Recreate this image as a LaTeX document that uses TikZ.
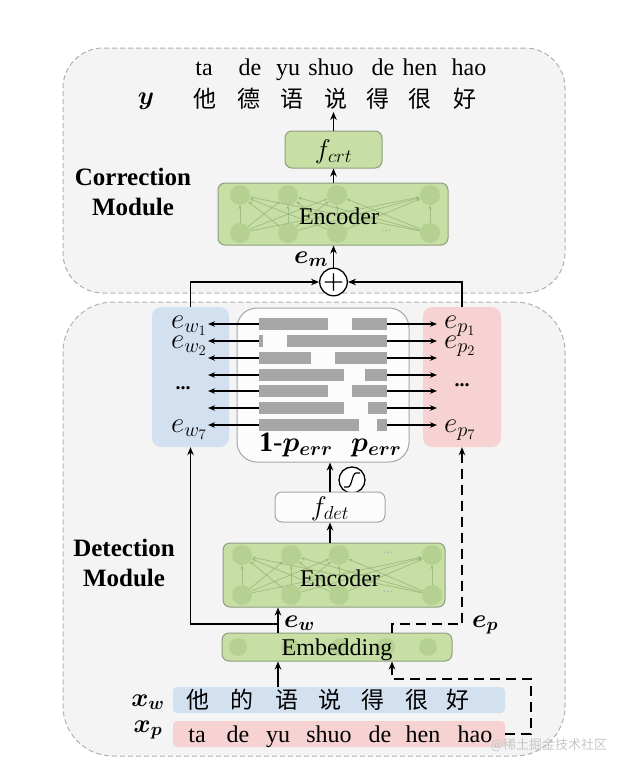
\RequirePackage{fix-cm}
\documentclass[tikz,border=0pt]{standalone}
\usepackage{fontspec}
\usepackage{bm}
\setmainfont{Liberation Serif}
\newfontfamily\cjk{Noto Sans CJK SC}
\usetikzlibrary{arrows.meta}
\definecolor{bgray}{HTML}{F4F4F4}
\definecolor{dashgray}{HTML}{B0B0B0}
\definecolor{gfill}{HTML}{C7DFA5}
\definecolor{gborder}{HTML}{8E9E80}
\definecolor{gcirc}{HTML}{A8C886}
\definecolor{gline}{HTML}{98B67C}
\definecolor{bluef}{HTML}{D3E0F0}
\definecolor{pinkf}{HTML}{F6D2D2}
\definecolor{bargray}{HTML}{A6A6A6}
\tikzset{
  outerbox/.style={draw=dashgray, dash pattern=on 5pt off 3pt, line width=1pt, fill=bgray, inner sep=0},
  greenbox/.style={draw=gborder, fill=gfill, rounded corners=7pt, line width=1pt, inner sep=0},
  whitebox/.style={draw=gray!70, fill=white!70!bgray, rounded corners=7pt, line width=1pt, inner sep=0},
  colbox/.style={rounded corners=9pt, inner sep=0},
  arr/.style={-{Stealth[length=8pt,width=6.5pt]}, line width=1.7pt},
  rowarr/.style={-{Stealth[length=7pt,width=5.5pt]}, line width=1.1pt},
  dasharr/.style={arr, dash pattern=on 10pt off 6pt},
  bar/.style={fill=bargray, inner sep=0, minimum height=12pt},
  txt/.style={font=\fontsize{24}{28}\selectfont, inner sep=0},
  cjktxt/.style={font=\cjk\fontsize{23}{28}\selectfont, inner sep=0},
  mtxt/.style={font=\fontsize{29}{32}\selectfont, inner sep=0},
  ftxt/.style={font=\fontsize{27}{30}\selectfont, inner sep=0},
  bmtxt/.style={font=\fontsize{26}{30}\selectfont, inner sep=0},
  stxt/.style={font=\fontsize{28}{30}\selectfont, inner sep=0},
  btxt/.style={font=\bfseries\fontsize{25}{30}\selectfont, inner sep=0, align=center},
  ecirc/.style={circle, fill=gcirc, fill opacity=0.6, inner sep=0, minimum size=20pt},
  elink/.style={draw=gline, line width=0.8pt, opacity=0.8, -{Stealth[length=4pt,width=3pt]}},
  opcirc/.style={circle, draw, line width=1.3pt, fill=white, inner sep=0},
  dotstxt/.style={font=\bfseries\fontsize{20}{20}\selectfont, inner sep=0},
}
\begin{document}
\begin{tikzpicture}[x=1pt,y=-1pt]
\useasboundingbox (0,0) rectangle (626,774);
% outer module boxes
\node[outerbox, rounded corners=40pt, minimum width=502pt, minimum height=245pt] (corrbox) at (314,170.5) {};
\node[outerbox, rounded corners=50pt, minimum width=502pt, minimum height=454pt] (detbox) at (314,529) {};
\node[btxt] (corrlab) at (133,192) {Correction\\Module};
\node[btxt] (detlab) at (124,563) {Detection\\Module};

% output rows
\foreach \p/\x [count=\i] in {ta/204,de/250,yu/288,shuo/331,de/383,hen/420,hao/469}
  \node[txt, anchor=base] (py\i) at (\x,75) {\p};
\foreach \c/\x [count=\i] in {他/205,德/249,语/292,说/336,得/378,很/420,好/465}
  \node[cjktxt] (yc\i) at (\x,99) {\c};
\node[bmtxt, anchor=base] (ylab) at (146,104) {$\bm{y}$};

% correction module
\node[greenbox, minimum width=97pt, minimum height=37pt] (fcrt) at (333.5,149.5) {};
\node[ftxt] (fcrtt) at (333.5,152) {$f_{crt}$};
\node[greenbox, minimum width=230pt, minimum height=62pt] (enc1) at (333,214) {};
\foreach \x [count=\i] in {240,288,337,430} {
  \node[ecirc] (ta\i) at (\x,195) {};
  \node[ecirc] (ba\i) at (\x,233) {};
}
\foreach \i in {1,2,3,4} \foreach \j in {1,2,3,4}
  \draw[elink] (ba\i) -- (ta\j);
\node[txt, text=gray!60, font=\fontsize{14}{14}\selectfont] (enc1dots) at (386,231) {...};
\node[txt] (enc1t) at (339,216) {Encoder};
\node[opcirc, minimum size=27pt, font=\fontsize{24}{24}\selectfont] (plus) at (333.5,282) {$\bm{+}$};
\node[bmtxt, anchor=base west] (emlab) at (294,263) {$\bm{e_m}$};
\coordinate (ytop) at (333.5,112);
\draw[arr] (fcrt.north) -- (ytop);
\draw[arr] (fcrt.south |- enc1.north) -- (fcrt.south);
\draw[arr] (plus.north) -- (plus.north |- enc1.south);

% detection: three column boxes
\node[colbox, fill=bluef, minimum width=77pt, minimum height=140pt] (ewbox) at (190.5,377) {};
\node[colbox, fill=pinkf, minimum width=78pt, minimum height=140pt] (epbox) at (462,377) {};
\node[whitebox, rounded corners=20pt, minimum width=172pt, minimum height=154pt] (midbox) at (323,385) {};
\draw[arr] (ewbox.north) |- (plus.west);
\draw[arr] (epbox.north) |- (plus.east);

\foreach \y/\a/\b [count=\i] in {324/328/352, 341/263/287, 358/311/335, 375/344/365, 391/328/352, 408/344/368, 425/359/377} {
  \node[bar, minimum width={(\a-259)*1pt}, anchor=west] (lb\i) at (259,\y) {};
  \node[bar, minimum width={(387-\b)*1pt}, anchor=east] (rb\i) at (387,\y) {};
  \coordinate (lt\i) at (208,\y);
  \coordinate (rt\i) at (437,\y);
  \draw[rowarr] (lb\i.west) -- (lt\i);
  \draw[rowarr] (rb\i.east) -- (rt\i);
}
\node[mtxt, anchor=base west] (ew1) at (171,328) {$e_{w_1}$};
\node[mtxt, anchor=base west] (ew2) at (171,348) {$e_{w_2}$};
\node[dotstxt] (ewd) at (183,388) {...};
\node[mtxt, anchor=base west] (ew7) at (171,432) {$e_{w_7}$};
\node[mtxt, anchor=base west] (ep1) at (444,328) {$e_{p_1}$};
\node[mtxt, anchor=base west] (ep2) at (444,348) {$e_{p_2}$};
\node[dotstxt] (epd) at (462,385) {...};
\node[mtxt, anchor=base west] (ep7) at (444,432) {$e_{p_7}$};
\node[stxt, anchor=base west] (perr1) at (259,451) {$\mathbf{1}$-$\bm{p_{err}}$};
\node[stxt, anchor=base west] (perr) at (351,451) {$\bm{p_{err}}$};

% sigmoid and f_det
\node[opcirc, minimum size=26pt] (sig) at (352,480) {};
\draw[line width=1.2pt] (sig.center) ++(-8,7) -- ++(4,0) .. controls ++(4,0) and ++(-4,0) .. ++(8,-14) -- ++(4,0);
\node[whitebox, minimum width=110pt, minimum height=30pt] (fdet) at (330,507) {};
\node[ftxt] (fdett) at (330,509) {$f_{det}$};
\draw[arr] (fdet.north) -- (fdet.north |- midbox.south);

% detection encoder
\node[greenbox, minimum width=222pt, minimum height=64pt] (enc2) at (334,575) {};
\foreach \x [count=\i] in {242,291,339,432} {
  \node[ecirc] (tb\i) at (\x,555) {};
  \node[ecirc] (bb\i) at (\x,595) {};
}
\foreach \i in {1,2,3,4} \foreach \j in {1,2,3,4}
  \draw[elink] (bb\i) -- (tb\j);
\node[txt, text=gray!60, font=\fontsize{14}{14}\selectfont] (enc2dotsa) at (388,553) {...};
\node[txt, text=gray!60, font=\fontsize{14}{14}\selectfont] (enc2dotsb) at (388,592) {...};
\node[txt] (enc2t) at (340,578) {Encoder};
\draw[arr] (fdet.south |- enc2.north) -- (fdet.south);

% embedding
\node[greenbox, minimum width=230pt, minimum height=28pt] (emb) at (337,647) {};
\foreach \x [count=\i] in {238,290,340,386,428}
  \node[ecirc, minimum size=18pt] (ec\i) at (\x,647) {};
\node[txt] (embt) at (337,650) {Embedding};

\coordinate (ewsplit) at (278,624);
\coordinate (epsplit) at (392,624);
\draw[arr] (emb.north -| ewsplit) -- (enc2.south -| ewsplit);
\draw[arr] (ewsplit) -| (ewbox.south);
\draw[dasharr] (emb.north -| epsplit) -- (epsplit) -| (epbox.south);
\node[bmtxt, anchor=base west] (ewlab) at (284,627) {$\bm{e_w}$};
\node[bmtxt, anchor=base west] (eplab) at (472,627) {$\bm{e_p}$};

% input rows
\node[colbox, rounded corners=4pt, fill=bluef, minimum width=332pt, minimum height=26pt] (xwbox) at (339,700) {};
\node[colbox, rounded corners=4pt, fill=pinkf, minimum width=332pt, minimum height=26pt] (xpbox) at (339,734) {};
\foreach \c/\x [count=\i] in {他/198,的/242,语/287,说/330,得/373,很/417,好/458}
  \node[cjktxt] (xc\i) at (\x,700) {\c};
\foreach \p/\x [count=\i] in {ta/197,de/238,yu/278,shuo/329,de/380,hen/423,hao/475}
  \node[txt, anchor=base] (xp\i) at (\x,742) {\p};
\node[bmtxt, anchor=base] (xwlab) at (148,706) {$\bm{x_w}$};
\node[bmtxt, anchor=base] (xplab) at (148,732) {$\bm{x_p}$};
\draw[arr] (xwbox.north -| ewsplit) -- (emb.south -| ewsplit);
\coordinate (dr) at (531,679);
\draw[dasharr] (xpbox.east) -| (dr) -- (dr -| epsplit) -- (emb.south -| epsplit);

% watermark
\node[font=\cjk\fontsize{13}{13}\selectfont, text=gray!45, inner sep=0] (wm) at (549,745) {@稀土掘金技术社区};
\end{tikzpicture}
\end{document}
